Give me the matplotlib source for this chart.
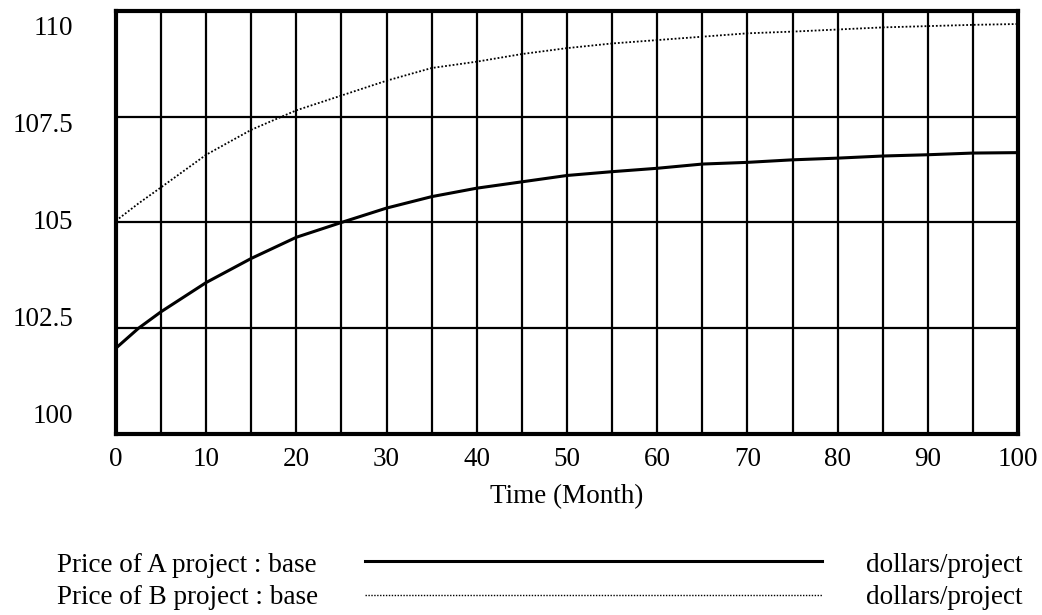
"""Vensim-style run chart: price of A and B projects over time."""

import matplotlib

matplotlib.use("Agg")
import matplotlib.pyplot as plt
from matplotlib.lines import Line2D
from matplotlib.transforms import blended_transform_factory

# values
months = [0, 2.5, 5, 10, 15, 20, 25, 30, 35, 40, 45, 50,
          55, 60, 65, 70, 75, 80, 85, 90, 95, 100]
price_a = [102.03, 102.5, 102.89, 103.58, 104.15, 104.65, 105.0, 105.34,
           105.61, 105.81, 105.96, 106.11, 106.2, 106.28, 106.38, 106.42,
           106.48, 106.52, 106.57, 106.6, 106.64, 106.65]
price_b = [105.04, 105.45, 105.83, 106.6, 107.19, 107.65, 108.0, 108.35,
           108.65, 108.8, 108.98, 109.12, 109.23, 109.31, 109.39, 109.47,
           109.51, 109.56, 109.61, 109.64, 109.67, 109.69]
y_ticks = [100, 102.5, 105, 107.5, 110]
y_tick_labels = ["100", "102.5", "105", "107.5", "110"]
x_ticks = list(range(0, 101, 10))
legend_names = ["Price of A project : base", "Price of B project : base"]
units = "dollars/project"

plt.rcParams["font.family"] = ["Liberation Serif", "DejaVu Serif"]
FS = 19.5

fig = plt.figure(figsize=(10.42, 6.15), dpi=100)
ax = fig.add_axes([0.1113, 0.2943, 0.8657, 0.688])

ax.plot(months, price_a, color="black", linewidth=2.2, solid_capstyle="butt")
ax.plot(months, price_b, color="black", linewidth=1.3, linestyle=(0, (1, 1.1)))

ax.set_xlim(0, 100)
ax.set_ylim(100, 110)
ax.set_xticks(x_ticks)
ax.set_xticks(range(0, 101, 5), minor=True)
ax.set_yticks(y_ticks)
ax.set_yticklabels([])
ax.tick_params(which="both", length=0)
ax.tick_params(axis="x", labelsize=FS, pad=9)
ax.grid(True, which="both", color="black", linewidth=1.6)
ax.set_axisbelow(True)
for spine in ax.spines.values():
    spine.set_linewidth(3)

# Vensim pulls the y labels toward the middle of the axis
ytrans = blended_transform_factory(ax.transAxes, ax.transData)
for val, lab in zip(y_ticks, y_tick_labels):
    ax.text(-0.047, 105 + (val - 105) * 0.915, lab, transform=ytrans,
            ha="right", va="center", fontsize=FS)

ax.set_xlabel("Time (Month)", fontsize=FS, labelpad=9)

# legend rows: name, line sample, units
styles = [dict(linewidth=2.2, linestyle="-"),
          dict(linewidth=1.0, linestyle=(0, (1, 1.1)))]
row_base = [1 - 572 / 615, 1 - 604 / 615]
row_line = [1 - 561 / 615, 1 - 595 / 615]
for name, style, yb, yl in zip(legend_names, styles, row_base, row_line):
    fig.text(0.055, yb, name, fontsize=FS, va="baseline", ha="left")
    fig.add_artist(Line2D([0.35, 0.789], [yl, yl], color="black",
                          transform=fig.transFigure, **style))
    fig.text(0.981, yb, units, fontsize=FS, va="baseline", ha="right")

fig.savefig("out.png", dpi=100)
plt.close(fig)
